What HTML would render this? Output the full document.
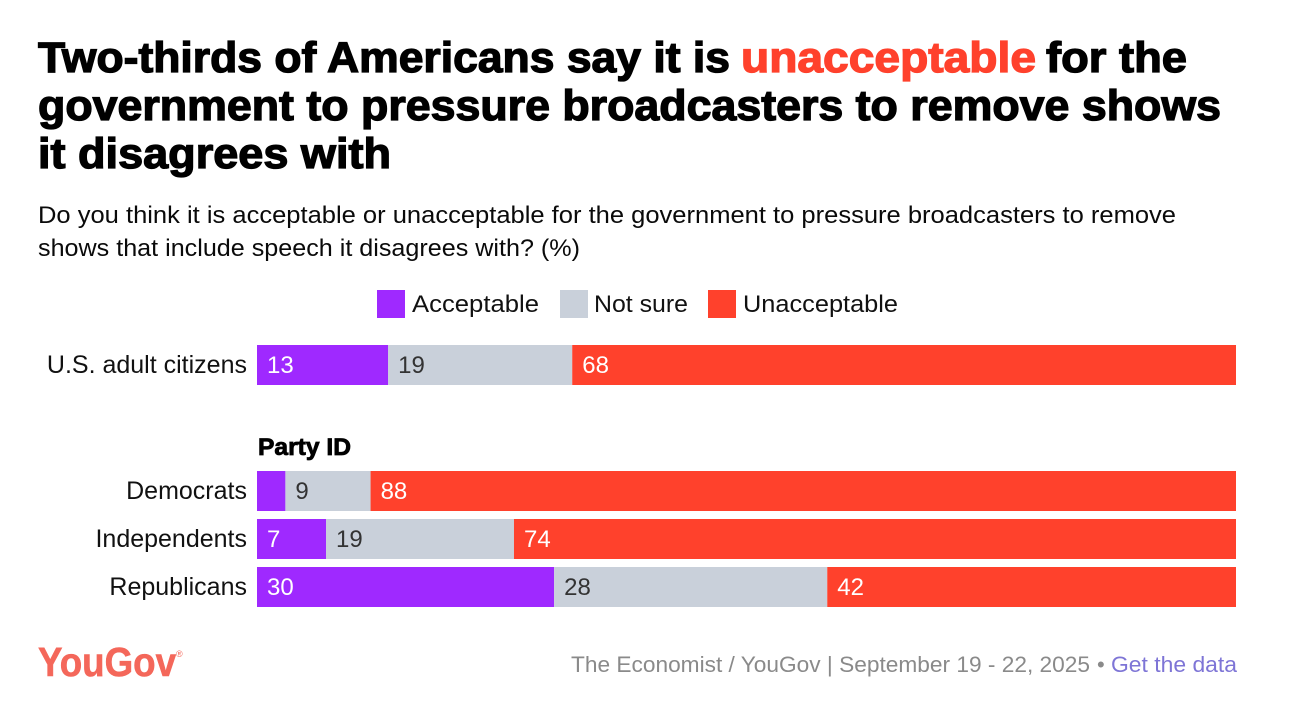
<!DOCTYPE html>
<html lang="en">
<head>
<meta charset="utf-8">
<title>YouGov chart</title>
<style>
html,body{margin:0;padding:0;background:#fff;}
svg{display:block;font-family:"Liberation Sans",sans-serif;}
.head{font-size:43px;font-weight:700;stroke-width:1.3px;paint-order:stroke;}
.sub{font-size:24.5px;fill:#0a0a0a;}
.leg{font-size:24.5px;fill:#111;}
.cat{font-size:25px;fill:#111;text-anchor:end;}
.val{font-size:24px;}
.foot{font-size:22px;fill:#8a8a8a;}
</style>
</head>
<body>
<svg id="chart" width="1292" height="714" viewBox="0 0 1292 714" xmlns="http://www.w3.org/2000/svg">
  <rect x="0" y="0" width="1292" height="714" fill="#ffffff"/>

  <g>
    <text class="head" x="38" y="72" fill="#000" stroke="#000" textLength="692" lengthAdjust="spacingAndGlyphs">Two-thirds of Americans say it is</text>
    <text class="head" x="741" y="72" fill="#ff412c" stroke="#ff412c" textLength="295" lengthAdjust="spacingAndGlyphs">unacceptable</text>
    <text class="head" x="1046" y="72" fill="#000" stroke="#000" textLength="141" lengthAdjust="spacingAndGlyphs">for the</text>
    <text class="head" x="38" y="120" fill="#000" stroke="#000" textLength="1183" lengthAdjust="spacingAndGlyphs">government to pressure broadcasters to remove shows</text>
    <text class="head" x="38" y="168" fill="#000" stroke="#000" textLength="353" lengthAdjust="spacingAndGlyphs">it disagrees with</text>
  </g>

  <g>
    <text class="sub" x="38" y="223" textLength="1138" lengthAdjust="spacingAndGlyphs">Do you think it is acceptable or unacceptable for the government to pressure broadcasters to remove</text>
    <text class="sub" x="38" y="256" textLength="542" lengthAdjust="spacingAndGlyphs">shows that include speech it disagrees with? (%)</text>
  </g>

  <g>
    <rect x="377" y="290" width="28" height="28" fill="#9f29ff"/>
    <text class="leg" x="412" y="312" textLength="127" lengthAdjust="spacingAndGlyphs">Acceptable</text>
    <rect x="560" y="290" width="28" height="28" fill="#c9d0da"/>
    <text class="leg" x="594" y="312" textLength="94" lengthAdjust="spacingAndGlyphs">Not sure</text>
    <rect x="708" y="290" width="28" height="28" fill="#ff412c"/>
    <text class="leg" x="743" y="312" textLength="155" lengthAdjust="spacingAndGlyphs">Unacceptable</text>
  </g>

  <text x="258" y="455" font-size="24" font-weight="700" fill="#000" stroke="#000" stroke-width="0.8" textLength="93" lengthAdjust="spacingAndGlyphs">Party ID</text>

  <g id="bars"></g>

  <g>
    <text x="38" y="676" font-size="41" font-weight="700" fill="#f4675a" stroke="#f4675a" stroke-width="0.6" textLength="138" lengthAdjust="spacingAndGlyphs">YouGov</text>
    <text x="176" y="657" font-size="9" fill="#f4675a">®</text>
  </g>

  <g>
    <text class="foot" x="571" y="672" textLength="519" lengthAdjust="spacingAndGlyphs">The Economist / YouGov | September 19 - 22, 2025</text>
    <text class="foot" x="1097" y="672">•</text>
    <text class="foot" x="1111" y="672" style="fill:#7e75d6" textLength="126" lengthAdjust="spacingAndGlyphs">Get the data</text>
  </g>
</svg>

<script>
var categories = ["U.S. adult citizens", "Democrats", "Independents", "Republicans"];
var acceptable = [13.4, 2.9, 7.05, 30.35];
var notSure = [18.8, 8.7, 19.2, 27.9];
var unacceptable = [67.8, 88.4, 73.75, 41.75];

var svgNS = "http://www.w3.org/2000/svg";
var barsGroup = document.getElementById("bars");
var plotLeft = 257;
var plotWidth = 979;
var barHeight = 40;

function xScale(v) {
  return plotLeft + v / 100 * plotWidth;
}
function yScale(i) {
  return i === 0 ? 345 : 471 + (i - 1) * 48;
}

var seriesList = [
  { key: "acceptable", values: acceptable, fill: "#9f29ff", text: "#ffffff" },
  { key: "not-sure", values: notSure, fill: "#c9d0da", text: "#333333" },
  { key: "unacceptable", values: unacceptable, fill: "#ff412c", text: "#ffffff" }
];

categories.forEach(function (cat, i) {
  var slug = cat.toLowerCase().replace(/[^a-z]+/g, "-").replace(/-$/, "");
  var y = yScale(i);

  var label = document.createElementNS(svgNS, "text");
  label.setAttribute("class", "cat");
  label.setAttribute("x", plotLeft - 10);
  label.setAttribute("y", y + 28);
  
  
  label.textContent = cat;
  barsGroup.appendChild(label);

  var total = acceptable[i] + notSure[i] + unacceptable[i];
  var cum = 0;
  seriesList.forEach(function (s) {
    var v = s.values[i] / total * 100;
    var x0 = xScale(cum);
    var x1 = xScale(cum + v);
    cum += v;

    var rect = document.createElementNS(svgNS, "rect");
    rect.setAttribute("x", x0);
    rect.setAttribute("y", y);
    rect.setAttribute("width", x1 - x0);
    rect.setAttribute("height", barHeight);
    rect.setAttribute("fill", s.fill);
    
    
    rect.setAttribute("data-series", s.key);
    rect.setAttribute("data-category", slug);
    barsGroup.appendChild(rect);

    if (s.values[i] >= 5) {
      var t = document.createElementNS(svgNS, "text");
      t.setAttribute("class", "val");
      t.setAttribute("x", x0 + 10);
      t.setAttribute("y", y + 28);
      t.setAttribute("fill", s.text);
      
      
      t.textContent = Math.round(s.values[i]);
      barsGroup.appendChild(t);
    }
  });
});
</script>
</body>
</html>
